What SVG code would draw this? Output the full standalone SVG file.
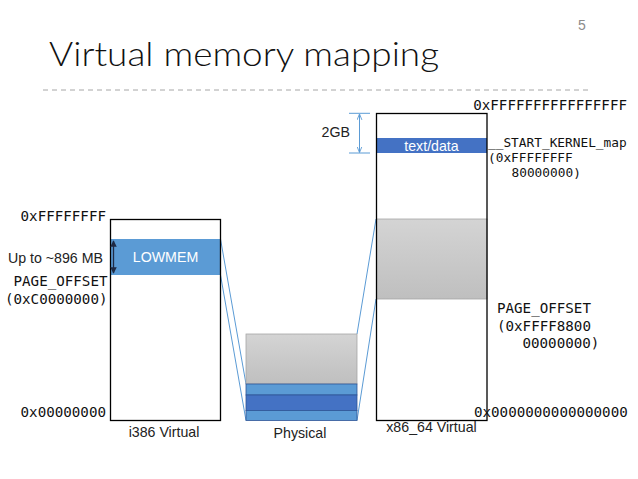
<svg xmlns="http://www.w3.org/2000/svg" width="638" height="479" viewBox="0 0 638 479">
<style>
.mono{font-family:"DejaVu Sans Mono","Liberation Mono",monospace;font-size:14.2px;fill:#111}
.monos{font-family:"DejaVu Sans Mono","Liberation Mono",monospace;font-size:12.8px;fill:#111}
.sans{font-family:"Liberation Sans",Arial,sans-serif;font-size:14.2px;fill:#222}
.wsans{font-family:"Liberation Sans",Arial,sans-serif;font-size:14.2px;fill:#ffffff}
.box{fill:none;stroke:#000;stroke-width:1.3}
.lb{fill:#5b9bd5}
.db{fill:#4472c4}
.strip{stroke:#2f5597;stroke-width:0.8}
.conn{stroke:#5b9bd5;stroke-width:1;fill:none}
</style>
<defs>
<linearGradient id="gray" x1="0" y1="0" x2="0" y2="1">
<stop offset="0" stop-color="#d4d4d4"/>
<stop offset="1" stop-color="#bfbfbf"/>
</linearGradient>
<marker id="ahDark" viewBox="0 0 10 10" refX="9" refY="5" markerWidth="5" markerHeight="5" orient="auto-start-reverse">
<path d="M0,0 L10,5 L0,10 z" fill="#1f2a44"/>
</marker>
<marker id="ahBlue" viewBox="0 0 10 10" refX="9" refY="5" markerWidth="6" markerHeight="6" orient="auto-start-reverse">
<path d="M0,1 L10,5 L0,9" fill="none" stroke="#5b9bd5" stroke-width="1.5"/>
</marker>
</defs>
<rect width="638" height="479" fill="#ffffff"/>

<g id="header">
<text x="582" y="30" text-anchor="middle" style="font-family:'Liberation Sans',Arial,sans-serif;font-size:14px;fill:#8c8c8c">5</text>
<text x="49" y="66" textLength="390" lengthAdjust="spacingAndGlyphs" style="font-family:Lato,'Liberation Sans',sans-serif;font-weight:300;font-size:34px;fill:#111">Virtual memory mapping</text>
<line x1="43" y1="90" x2="590" y2="90" stroke="#a6a6a6" stroke-width="1" stroke-dasharray="5 4"/>
</g>

<g id="connectors">
<line class="conn" x1="220.5" y1="239" x2="246" y2="384"/>
<line class="conn" x1="220.5" y1="275" x2="246" y2="420.5"/>
<line class="conn" x1="357" y1="334" x2="376" y2="219"/>
<line class="conn" x1="357" y1="420.5" x2="376" y2="299"/>
</g>

<g id="i386">
<rect x="110.5" y="219.5" width="110" height="201" fill="#fff"/>
<rect class="lb" x="110.5" y="239" width="110" height="36"/>
<rect class="box" x="110.5" y="219.5" width="110" height="201"/>
<line x1="113.5" y1="241" x2="113.5" y2="273" stroke="#1f2a44" stroke-width="1.3" marker-start="url(#ahDark)" marker-end="url(#ahDark)"/>
<text class="wsans" x="165.5" y="262" text-anchor="middle">LOWMEM</text>
<text class="sans" x="164" y="437" text-anchor="middle">i386 Virtual</text>
<text class="mono" x="106" y="221" text-anchor="end">0xFFFFFFFF</text>
<text class="sans" x="103" y="262.5" text-anchor="end">Up to ~896 MB</text>
<text class="mono" x="107.5" y="286" text-anchor="end">PAGE_OFFSET</text>
<text class="mono" x="107.5" y="304" text-anchor="end">(0xC0000000)</text>
<text class="mono" x="106" y="416.5" text-anchor="end">0x00000000</text>
</g>

<g id="physical">
<rect x="246" y="334" width="111" height="50" fill="url(#gray)" stroke="#a6a6a6" stroke-width="0.8"/>
<rect class="lb strip" x="246" y="384" width="111" height="11"/>
<rect class="db strip" x="246" y="395" width="111" height="15.5"/>
<rect class="lb strip" x="246" y="410.5" width="111" height="10"/>
<text class="sans" x="300" y="437.5" text-anchor="middle">Physical</text>
</g>

<g id="x86_64">
<rect x="376.5" y="113.5" width="110.5" height="307" fill="#fff"/>
<rect class="db" x="376.5" y="138" width="110.5" height="15"/>
<rect x="376.5" y="219" width="110.5" height="80" fill="url(#gray)" stroke="#a6a6a6" stroke-width="0.8"/>
<rect class="box" x="376.5" y="113.5" width="110.5" height="307"/>
<text class="wsans" x="431.5" y="150.5" text-anchor="middle">text/data</text>
<text class="sans" x="431.5" y="432" text-anchor="middle">x86_64 Virtual</text>
<text class="mono" x="627" y="110" text-anchor="end">0xFFFFFFFFFFFFFFFF</text>
<text class="monos" x="488" y="146.5">__START_KERNEL_map</text>
<text class="monos" x="488" y="161.5">(0xFFFFFFFF</text>
<text class="monos" x="511.5" y="176.5">80000000)</text>
<text class="mono" x="497" y="313">PAGE_OFFSET</text>
<text class="mono" x="497" y="330.5">(0xFFFF8800</text>
<text class="mono" x="522.5" y="348">00000000)</text>
<text class="mono" x="474" y="416.5">0x0000000000000000</text>
</g>

<g id="dim2GB">
<line x1="349" y1="113.3" x2="370" y2="113.3" stroke="#5b9bd5" stroke-width="1"/>
<line x1="349" y1="153" x2="370" y2="153" stroke="#5b9bd5" stroke-width="1"/>
<line x1="359.5" y1="114.5" x2="359.5" y2="152" stroke="#5b9bd5" stroke-width="1" marker-start="url(#ahBlue)" marker-end="url(#ahBlue)"/>
<text class="sans" x="350" y="137" text-anchor="end">2GB</text>
</g>
</svg>
